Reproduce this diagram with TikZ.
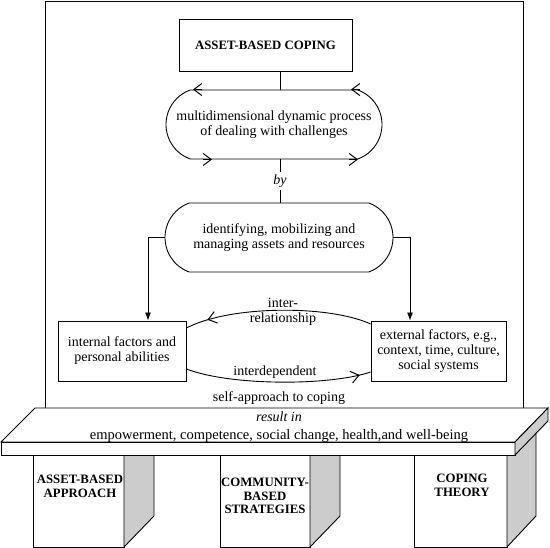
\documentclass[tikz,border=0pt]{standalone}
\usepackage{fontspec}
\setmainfont{Liberation Serif}
\usetikzlibrary{shapes.misc,arrows.meta,decorations.markings,calc}
\tikzset{mybarb/.tip={Straight Barb[length=8pt,width=12pt,line width=1pt]}}
\begin{document}
\begin{tikzpicture}[x=1pt,y=-1pt,
  every node/.style={inner sep=0pt, align=center},
  lw/.style={line width=0.9pt},
  txt/.style={font=\fontsize{14}{15}\selectfont},
  ittxt/.style={font=\fontsize{14}{15}\selectfont\itshape},
  boldtxt/.style={font=\fontsize{12.8}{13.5}\selectfont\bfseries},
  pill/.style={draw, line width=0.9pt, rounded rectangle, rounded rectangle arc length=140, minimum height=69pt, txt},
  box/.style={draw, line width=0.9pt, rectangle, txt},
  barb/.style={-mybarb, line width=0.9pt},
  solidtip/.style={-{Latex[length=8pt,width=6pt]}, line width=0.9pt},
  sideface/.style={fill=gray!40, draw, line width=0.9pt, line join=miter},
  face/.style={fill=white, draw, line width=0.9pt, line join=miter},
]
\useasboundingbox (0,0) rectangle (550,548);
% outer frame
\draw[lw] (45,1) rectangle (523,408);
% nodes
\node[box, boldtxt, minimum width=173pt, minimum height=52pt] (title) at (265.5,45) {ASSET-BASED COPING};
\node[pill, minimum width=216pt] (p1) at (274,124.5) {multidimensional dynamic process\\of dealing with challenges};
\node[pill, minimum width=228pt] (p2) at (279,237.5) {identifying, mobilizing and\\managing assets and resources};
\node[box, minimum width=128pt, minimum height=60pt] (int) at (122,351) {internal factors and\\personal abilities};
\node[box, minimum width=135pt, minimum height=60pt] (ext) at (438.5,351) {external factors, e.g.,\\context, time, culture,\\social systems};
% arrowheads on the cycle
\draw[barb] ([xshift=-72pt]p1.north) -- ([xshift=-81pt]p1.north);
\draw[barb] ([xshift=86pt]p1.north) -- ([xshift=77pt]p1.north);
\draw[barb] ([xshift=-71pt]p1.south) -- ([xshift=-62pt]p1.south);
\draw[barb] ([xshift=75pt]p1.south) -- ([xshift=84pt]p1.south);
% spine
\coordinate (spine) at (280,0);
\draw[lw] (title.south -| spine) -- (p1.north -| spine);
\draw[lw] (p1.south -| spine) -- node[fill=white, inner ysep=3pt, ittxt] (by) {by} (p2.north -| spine);
% side arrows
\draw[solidtip] (p2.west) -| ($(int.north)+(26,0)$);
\draw[solidtip] (p2.east) -| ($(ext.north)+(-28.5,0)$);
% curves
\draw[lw, postaction={decorate}, decoration={markings, mark=at position 0.88 with {\arrow{mybarb}}}]
  ($(ext.west)+(0,-27)$) .. controls +(-41,-19) and +(44,-23) .. ($(int.east)+(0,-23)$);
\draw[lw, postaction={decorate}, decoration={markings, mark=at position 0.94 with {\arrow{mybarb}}}]
  ($(int.east)+(0,18)$) .. controls +(44,17) and +(-41,14) .. ($(ext.west)+(0,21)$);
\node[txt] (lbl1) at (283,311.5) {inter-\\relationship};
\node[txt] (lbl2) at (275,372) {interdependent};
\node[txt] (lbl3) at (279,398) {self-approach to coping};
% legs
\draw[face] (33,430) rectangle (124,547);
\draw[sideface] (124,430) -- (154,430) -- (154,516) -- (124,547) -- cycle;
\draw[face] (220,430) rectangle (310,547);
\draw[sideface] (310,430) -- (340,430) -- (340,516) -- (310,547) -- cycle;
\draw[face] (414,430) rectangle (507,547);
\draw[sideface] (507,430) -- (536,430) -- (536,516) -- (507,547) -- cycle;
% slab
\draw[face] (1,442) -- (35,408) -- (548,408) -- (515,442) -- cycle;
\draw[face] (1,442) rectangle (515,455);
\draw[sideface] (515,442) -- (548,408) -- (548,421) -- (515,455) -- cycle;
\node[ittxt] (resultin) at (279,417) {result in};
\node[txt, font=\fontsize{14.5}{15}\selectfont] (outcomes) at (279,436) {empowerment, competence, social change, health,and well-being};
% leg labels
\node[boldtxt, anchor=north] (leg1) at (80,475) {ASSET-BASED\\APPROACH};
\node[boldtxt, anchor=north] (leg2) at (265,478) {COMMUNITY-\\BASED\\STRATEGIES};
\node[boldtxt, anchor=north] (leg3) at (462,474) {COPING\\THEORY};
\end{tikzpicture}
\end{document}
